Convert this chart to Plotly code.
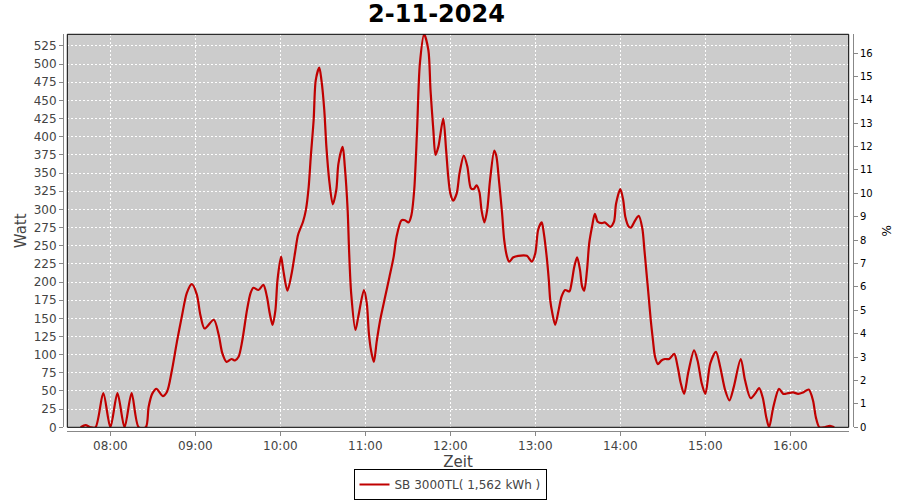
import plotly.graph_objects as go

DATE = "2024-11-02 "

times = [
    "07:39:00", "07:42:30", "07:46:00", "07:49:30", "07:55:00", "08:00:00", "08:05:00", "08:10:00",
    "08:15:00", "08:20:00", "08:25:00", "08:27:00", "08:29:30", "08:32:30", "08:37:00", "08:40:00",
    "08:43:30", "08:47:00", "08:50:30", "08:54:00", "08:57:30", "09:01:00", "09:03:30", "09:06:30",
    "09:13:00", "09:16:30", "09:19:00", "09:22:00", "09:25:30", "09:28:00", "09:30:30", "09:33:00",
    "09:36:30", "09:39:00", "09:41:00", "09:44:30", "09:48:00", "09:50:30", "09:52:30", "09:54:30",
    "09:56:30", "09:58:00", "10:00:30", "10:02:00", "10:05:00", "10:08:00", "10:10:30", "10:12:30",
    "10:16:00", "10:18:00", "10:20:00", "10:21:30", "10:23:30", "10:25:00", "10:27:30", "10:29:00",
    "10:31:00", "10:32:30", "10:34:30", "10:37:00", "10:39:30", "10:41:00", "10:44:00", "10:45:30",
    "10:47:30", "10:48:30", "10:50:00", "10:53:00", "10:55:00", "10:59:00", "11:01:00", "11:02:30",
    "11:04:00", "11:06:00", "11:08:00", "11:10:30", "11:14:00", "11:17:00", "11:20:00", "11:22:00",
    "11:25:30", "11:28:00", "11:30:30", "11:32:30", "11:34:30", "11:36:30", "11:38:30", "11:41:30",
    "11:44:30", "11:46:00", "11:48:00", "11:49:30", "11:51:30", "11:55:00", "11:57:00", "11:58:30",
    "12:00:00", "12:02:00", "12:04:30", "12:06:30", "12:09:30", "12:12:00", "12:14:30", "12:16:30",
    "12:18:30", "12:20:30", "12:22:00", "12:24:00", "12:26:00", "12:28:00", "12:31:00", "12:32:30",
    "12:34:30", "12:36:30", "12:38:00", "12:40:00", "12:41:30", "12:44:30", "12:48:00", "12:54:00",
    "12:57:30", "13:00:00", "13:02:00", "13:04:30", "13:06:00", "13:08:00", "13:09:30", "13:10:30",
    "13:12:00", "13:14:00", "13:16:30", "13:18:30", "13:21:00", "13:24:00", "13:25:30", "13:27:30",
    "13:29:30", "13:31:30", "13:33:00", "13:34:30", "13:36:30", "13:38:00", "13:40:00", "13:42:00",
    "13:44:00", "13:47:00", "13:49:00", "13:53:00", "13:55:30", "13:57:00", "14:00:00", "14:02:00",
    "14:03:30", "14:06:00", "14:07:30", "14:10:30", "14:13:00", "14:15:30", "14:17:00", "14:18:30",
    "14:20:00", "14:21:30", "14:23:00", "14:24:30", "14:26:30", "14:29:00", "14:31:30", "14:34:30",
    "14:38:00", "14:40:30", "14:42:30", "14:45:00", "14:48:00", "14:52:00", "14:54:30", "14:57:30",
    "15:00:00", "15:03:30", "15:07:30", "15:10:30", "15:14:00", "15:17:00", "15:20:00", "15:25:00",
    "15:28:00", "15:32:00", "15:35:00", "15:38:00", "15:40:30", "15:43:00", "15:45:00", "15:48:00",
    "15:52:00", "15:55:00", "15:58:30", "16:02:00", "16:05:30", "16:09:00", "16:13:00", "16:16:00",
    "16:18:00", "16:20:30", "16:24:00", "16:28:00", "16:31:00",
]

watt = [
    0, 3, 0, 0, 47, 0, 47, 0,
    47, 0, 0, 28, 46, 53, 43, 49,
    79, 118, 153, 185, 197, 183, 155, 136,
    148, 127, 102, 90, 94, 92, 97, 118,
    162, 185, 192, 189, 196, 180, 157, 141,
    161, 203, 235, 217, 188, 212, 242, 265,
    283, 299, 331, 373, 423, 478, 495, 478,
    437, 386, 340, 307, 327, 363, 386, 359,
    299, 244, 184, 134, 152, 189, 171, 129,
    106, 90, 118, 148, 180, 207, 235, 262,
    285, 285, 282, 292, 327, 409, 501, 541,
    519, 464, 409, 375, 386, 425, 382, 345,
    322, 312, 322, 350, 374, 359, 329, 328,
    333, 324, 299, 282, 299, 340, 381, 373,
    336, 295, 258, 235, 228, 234, 236, 236,
    228, 240, 272, 282, 267, 235, 203, 175,
    157, 141, 162, 180, 189, 187, 198, 221,
    234, 217, 194, 188, 217, 253, 276, 294,
    283, 281, 282, 276, 283, 308, 328, 313,
    290, 276, 275, 285, 291, 274, 244, 212,
    180, 147, 120, 97, 87, 92, 94, 94,
    101, 83, 62, 46, 76, 106, 92, 60,
    46, 88, 104, 83, 51, 37, 55, 94,
    65, 40, 46, 54, 41, 14, 0, 28,
    53, 46, 47, 48, 46, 48, 52, 37,
    14, 0, 0, 2, 0,
]

series_name = "SB 3000TL( 1,562 kWh )"
chart_title = "2-11-2024"
x_range = ["07:29:36", "16:41:12"]
watt_range = [0, 541]
pct_range = [0, 16.8]

FONT = "DejaVu Sans"
W, H = 900, 500
ml, mr, mt, mb = 63, 47, 34, 69
pw, ph = W - ml - mr, H - mt - mb
x_dom = [(67.3 - ml) / pw, (848.7 - ml) / pw]
y_dom = [(H - mb - 427.3) / ph, (H - mb - 34.3) / ph]

fig = go.Figure()
fig.add_trace(go.Scatter(
    x=[DATE + t for t in times], y=watt, mode="lines", name=series_name,
    line=dict(color="#C00000", width=2.2, shape="spline", smoothing=0.8),
))
fig.add_trace(go.Scatter(x=[], y=[], yaxis="y2", showlegend=False, hoverinfo="skip"))

axis_common = dict(
    showline=True, linecolor="#888888", linewidth=1, ticks="outside", ticklen=4,
    tickcolor="#888888", zeroline=False, automargin=False,
)

fig.update_layout(
    width=W, height=H,
    margin=dict(l=ml, r=mr, t=mt, b=mb, pad=0, autoexpand=False),
    paper_bgcolor="white", plot_bgcolor="#CCCCCC",
    font=dict(family=FONT, color="#444444"),
    title=dict(text="<b>" + chart_title + "</b>", x=0.485, xref="container", xanchor="center",
               y=1 - 13.5 / H, yanchor="middle", font=dict(size=24, color="black", family=FONT),
               automargin=False),
    xaxis=dict(
        domain=x_dom, anchor="free", position=0,
        range=[DATE + x_range[0], DATE + x_range[1]], type="date",
        tick0=DATE + "08:00:00", dtick=3600000, tickformat="%H:%M",
        showgrid=True, gridcolor="white", griddash="2px,2px", gridwidth=1,
        tickfont=dict(size=12, color="#444444"),
        title=dict(text="Zeit", font=dict(size=15, color="#444444"), standoff=2),
        **axis_common,
    ),
    yaxis=dict(
        domain=y_dom, anchor="free", position=0,
        range=watt_range, dtick=25, tick0=0,
        showgrid=True, gridcolor="white", griddash="2px,2px", gridwidth=1,
        tickfont=dict(size=12, color="#444444"),
        title=dict(text="Watt", font=dict(size=15, color="#444444"), standoff=2),
        **axis_common,
    ),
    yaxis2=dict(
        overlaying="y", side="right", anchor="free", position=1,
        range=pct_range, dtick=1, tick0=0, showgrid=False,
        tickfont=dict(size=10, color="black"),
        title=dict(text="%", font=dict(size=12, color="black"), standoff=10),
        **axis_common,
    ),
    legend=dict(
        orientation="h", x=(450 - ml) / pw, xanchor="center", y=(H - mb - 500) / ph, yanchor="bottom",
        bordercolor="black", borderwidth=1, bgcolor="white",
        font=dict(size=12, color="#444444"), itemwidth=30,
    ),
    showlegend=True,
    shapes=[dict(type="rect", xref="x domain", yref="y domain", x0=0, x1=1, y0=0, y1=1,
                 line=dict(color="black", width=1), fillcolor="rgba(0,0,0,0)", layer="above")],
)

fig.write_html("out.html", config={"displayModeBar": False},
               post_script="document.body.style.margin='0px';")
